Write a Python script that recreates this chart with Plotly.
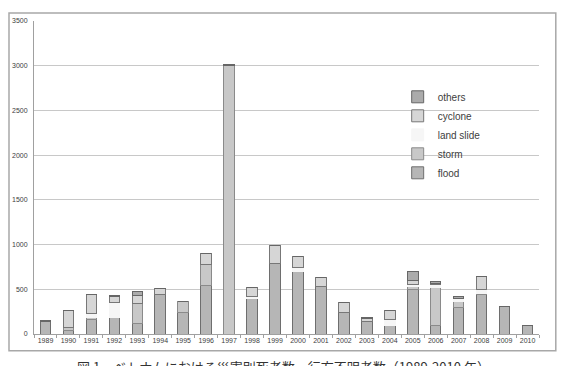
import plotly.graph_objects as go

years = [str(y) for y in range(1989, 2011)]
flood = [140, 40, 160, 185, 115, 440, 235, 540, 0, 400, 790, 695, 535, 235, 140, 97, 500, 90, 300, 440, 310, 95]
storm = [0, 38, 20, 0, 230, 0, 130, 238, 3000, 0, 0, 0, 0, 0, 0, 0, 35, 425, 65, 12, 0, 0]
land_slide = [0, 0, 45, 172, 0, 0, 0, 0, 0, 20, 0, 45, 0, 0, 0, 64, 20, 35, 35, 45, 0, 0]
cyclone = [0, 184, 215, 62, 80, 65, 0, 120, 0, 95, 200, 125, 95, 120, 30, 100, 45, 10, 0, 150, 0, 0]
others = [12, 0, 0, 10, 50, 0, 0, 0, 15, 0, 0, 0, 0, 0, 15, 0, 100, 25, 20, 0, 0, 0]

y_ticks = [0, 500, 1000, 1500, 2000, 2500, 3000, 3500]
caption = "図 1　ベトナムにおける災害別死者数・行方不明者数（1989-2010 年）"

series = [
    ("flood", flood, "#b6b6b6", "#6e6e6e"),
    ("storm", storm, "#c8c8c8", "#8a8a8a"),
    ("land slide", land_slide, "#f6f6f6", "#f6f6f6"),
    ("cyclone", cyclone, "#d6d6d6", "#777777"),
    ("others", others, "#ababab", "#666666"),
]

W, H = 561, 366
L, R, T, B = 28, 539, 21.3, 334
pw, ph = R - L, B - T

def px(x):
    return (x - L) / pw

def py(y):
    return (B - y) / ph

fig = go.Figure()
for name, vals, fill, edge in series:
    fig.add_trace(go.Bar(
        x=years, y=vals, name=name,
        marker=dict(color=fill, line=dict(color=edge, width=1)),
    ))

fig.update_layout(
    width=W, height=H,
    margin=dict(l=L, r=W - R, t=T, b=H - B),
    paper_bgcolor="white", plot_bgcolor="white",
    barmode="stack", bargap=0.54,
    font=dict(family="Liberation Sans, Arial, sans-serif", color="#404040"),
    showlegend=True,
    legend=dict(
        x=px(396), y=py(135), xanchor="left", yanchor="middle",
        traceorder="reversed", bgcolor="rgba(0,0,0,0)",
        font=dict(size=10, color="#404040"),
    ),
    xaxis=dict(
        type="category", showline=True, linecolor="#a0a0a0", linewidth=1,
        ticks="outside", tickson="boundaries", ticklen=3, tickcolor="#a0a0a0",
        tickangle=0, tickfont=dict(size=7, color="#404040"), showgrid=False,
    ),
    yaxis=dict(
        range=[0, 3500], tickvals=y_ticks, showline=True, linecolor="#a0a0a0",
        linewidth=1, gridcolor="#c8c8c8", gridwidth=1.3, zeroline=False,
        tickfont=dict(size=7, color="#404040"), ticks="", ticklabelstandoff=4,
    ),
    shapes=[dict(
        type="rect", xref="paper", yref="paper",
        x0=px(2.7), x1=px(556), y0=py(350.7), y1=py(13.3),
        line=dict(color="#a8a8a8", width=1.5), fillcolor="rgba(0,0,0,0)", layer="below",
    )],
    annotations=[dict(
        text=caption, xref="paper", yref="paper", x=px(280), y=py(355),
        xanchor="center", yanchor="top", showarrow=False,
        font=dict(family="Noto Sans CJK JP", size=13, color="#333333"),
    )],
)

fig.write_html("out.html")
